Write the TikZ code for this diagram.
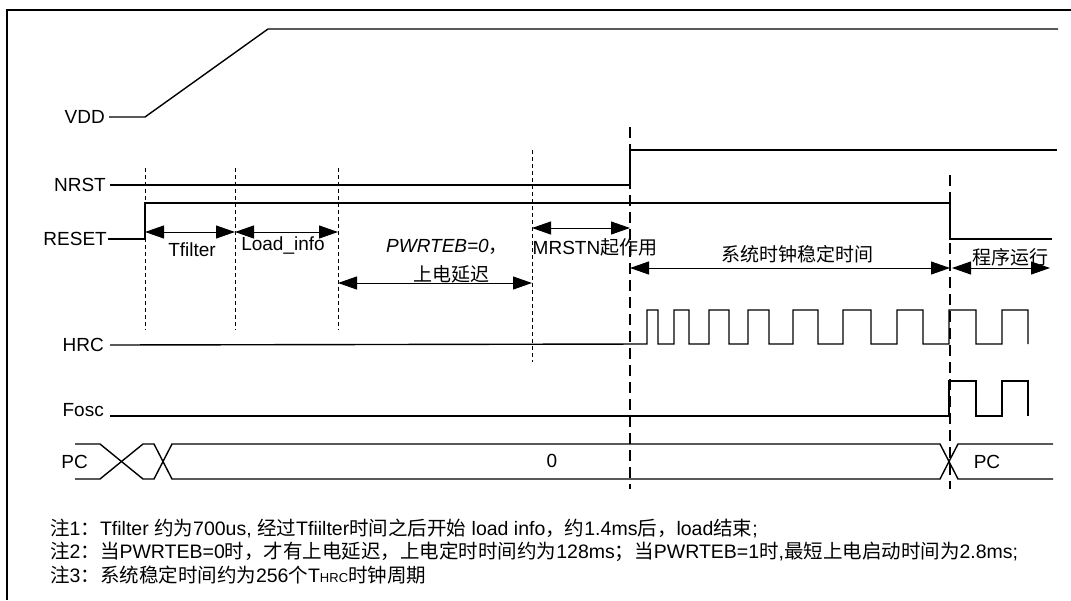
\documentclass[tikz,border=0pt]{standalone}
\usepackage{fontspec}
\setmainfont{Liberation Sans}
\newfontfamily\cjk{Noto Sans CJK SC}
\usetikzlibrary{arrows.meta}
\newcommand\zh[1]{{\cjk #1}}
\begin{document}
\begin{tikzpicture}[x=1pt,y=-1pt,font=\fontsize{19}{23}\selectfont,
  sig/.style={line width=1.4pt,line join=miter},
  frame/.style={line width=2.8pt},
  thindash/.style={line width=0.7pt,dash pattern=on 4pt off 3pt},
  thickdash/.style={line width=1.4pt,dash pattern=on 11pt off 6pt},
  dim/.style={line width=1pt,{Triangle[length=19pt,width=13pt]}-{Triangle[length=19pt,width=13pt]}},
  lbl/.style={anchor=east,inner sep=0pt},
  txt/.style={inner sep=0pt},
  note/.style={anchor=west,inner sep=0pt,font=\fontsize{19.5}{23}\selectfont}]
\useasboundingbox (0,0) rectangle (1071,600);
\draw[frame] (7,600) -- (7,10) -- (1071,10);

% signal names
\node[lbl] (vdd) at (105,117) {VDD};
\node[lbl] (nrst) at (106,185) {NRST};
\node[lbl] (reset) at (107,239) {RESET};
\node[lbl] (hrc) at (104,345) {HRC};
\node[lbl] (fosc) at (104,410) {Fosc};
\node[lbl] (pc) at (88,462) {PC};

% waveforms
\draw[sig] ([xshift=4pt]vdd.east) -- (145,117) -- (268,29) -- (1058,29);
\draw[sig] ([xshift=4pt]nrst.east) -- (630,185) -- (630,150) -- (1057,150);
\draw[sig] ([xshift=1pt]reset.east) -- (145,239) -- (145,203) -- (950,203) -- (950,239) -- (1052,239);
\draw[sig] ([xshift=6pt]hrc.east) -- (647,344)
  foreach \a/\b in {647/658,674/689,709/729,748/769,793/818,843/871,897/923,949/976,1002/1028}
  { -- (\a,344) -- (\a,310) -- (\b,310) -- (\b,344) };
\draw[sig] ([xshift=6pt]fosc.east) ++(0,6) -- (949,416) -- (949,381) -- (976,381) -- (976,416)
  -- (1002,416) -- (1002,381) -- (1028,381) -- (1028,416);

% PC bus
\draw[sig] (75,444) -- (100,444) -- (143,479) -- (154,479) -- (172,444) -- (940,444) -- (958,479) -- (1053,479);
\draw[sig] (75,479) -- (100,479) -- (143,444) -- (154,444) -- (172,479) -- (940,479) -- (958,444) -- (1053,444);
\node[txt] (pc0) at (552,461) {0};
\node[txt] (pc1) at (987,462) {PC};

% dashed markers
\foreach \x in {145,235,338} \draw[thindash] (\x,168) -- (\x,330);
\draw[thindash] (532,150) -- (532,362);
\draw[thickdash] (630,127) -- (630,489);
\draw[thickdash] (950,175) -- (950,489);

% dimension arrows
\coordinate (a0) at (145,232); \coordinate (a1) at (235,232); \coordinate (a2) at (338,232);
\draw[dim] (a0) -- (a1);
\draw[dim] (a1) -- (a2);
\node[txt] (tf) at (192,250) {Tfilter};
\node[txt] (li) at (283,245) {Load\_info};

\coordinate (b0) at (338,283); \coordinate (b1) at (532,283);
\draw[dim] (b0) -- (b1);
\node[txt] (pw) at (447,247) {\itshape PWRTEB=0\zh{，}};
\node[txt] (sd) at (451,274) {\zh{上电延迟}};

\coordinate (c0) at (532,228); \coordinate (c1) at (630,228);
\draw[dim] (c0) -- (c1);
\node[txt] (mr) at (595,247) {MRSTN\zh{起作用}};

\coordinate (d0) at (630,268); \coordinate (d1) at (950,268);
\draw[dim] (d0) -- (d1);
\node[txt] (xt) at (797,254) {\zh{系统时钟稳定时间}};

\coordinate (e0) at (952,268); \coordinate (e1) at (1050,268);
\draw[dim] (e0) -- (e1);
\node[txt] (cx) at (1010,257) {\zh{程序运行}};

% notes
\node[note] (n1) at (50,529) {\zh{注}1\zh{：}Tfilter \zh{约为}700us, \zh{经过}Tfiilter\zh{时间之后开始} load info\zh{，约}1.4ms\zh{后，}load\zh{结束};};
\node[note] (n2) at (50,552) {\zh{注}2\zh{：当}PWRTEB=0\zh{时，才有上电延迟，上电定时时间约为}128ms\zh{；当}PWRTEB=1\zh{时},\zh{最短上电启动时间为}2.8ms;};
\node[note] (n3) at (50,575) {\zh{注}3\zh{：系统稳定时间约为}256\zh{个}T{\fontsize{13}{15}\selectfont HRC}\zh{时钟周期}};
\end{tikzpicture}
\end{document}
